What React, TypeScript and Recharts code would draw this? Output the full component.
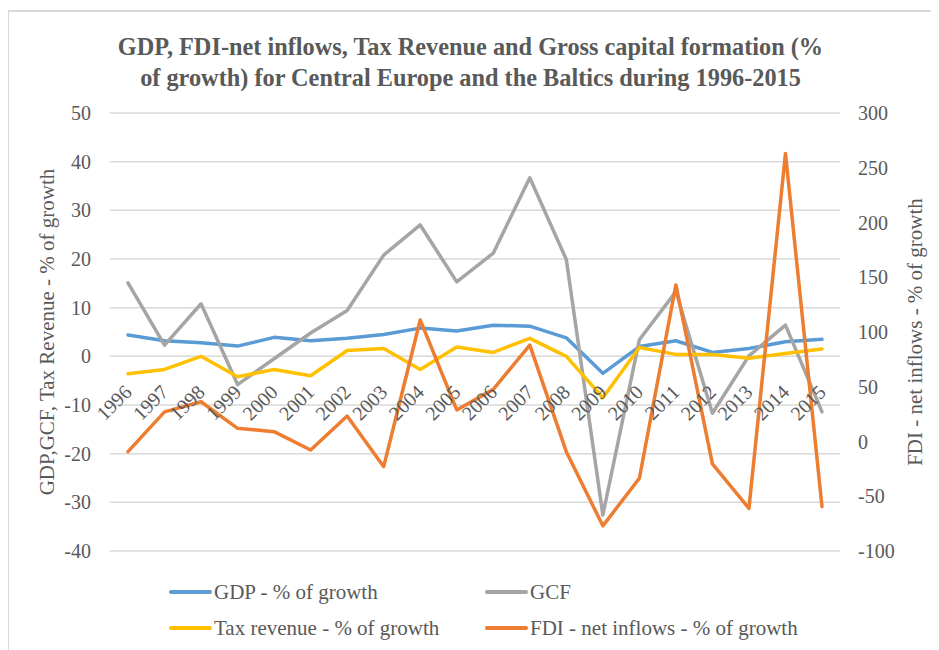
import { CartesianGrid, Line, LineChart, XAxis, YAxis } from "recharts";

const years = [
  "1996", "1997", "1998", "1999", "2000", "2001", "2002", "2003", "2004", "2005",
  "2006", "2007", "2008", "2009", "2010", "2011", "2012", "2013", "2014", "2015",
];
const gdpGrowth = [4.4, 3.2, 2.8, 2.1, 3.9, 3.2, 3.7, 4.5, 5.8, 5.2, 6.4, 6.2, 3.8, -3.5, 2.0, 3.2, 0.8, 1.6, 3.0, 3.5];
const gcfGrowth = [15.1, 2.3, 10.8, -5.8, -0.5, 4.8, 9.4, 20.8, 27.0, 15.3, 21.2, 36.7, 19.9, -32.6, 3.4, 13.3, -11.7, 0.1, 6.4, -11.4];
const taxGrowth = [-3.6, -2.7, 0, -4.2, -2.7, -4.0, 1.2, 1.6, -2.7, 1.9, 0.8, 3.7, 0, -8.5, 1.8, 0.4, 0.4, -0.4, 0.6, 1.5];
const fdiGrowth = [-9.3, 27, 36.3, 12, 9, -7.8, 23.3, -23, 111, 28.8, 47.6, 88, -9.3, -77, -33.6, 143, -20.5, -61, 263, -59.5];

const leftTicks = [-40, -30, -20, -10, 0, 10, 20, 30, 40, 50];
const rightTicks = [-100, -50, 0, 50, 100, 150, 200, 250, 300];

const series = [
  { key: "gdp", name: "GDP - % of growth", color: "#5B9BD5", axis: "left" },
  { key: "gcf", name: "GCF", color: "#A5A5A5", axis: "left" },
  { key: "tax", name: "Tax revenue - % of growth", color: "#FFC000", axis: "left" },
  { key: "fdi", name: "FDI - net inflows - % of growth", color: "#ED7D31", axis: "right" },
];

const data = years.map((year, i) => ({
  year,
  gdp: gdpGrowth[i],
  gcf: gcfGrowth[i],
  tax: taxGrowth[i],
  fdi: fdiGrowth[i],
}));

const FONT = "'Liberation Serif', 'Times New Roman', serif";
const TEXT = "#595959";
const W = 931;
const H = 642;
const M = { top: 105, left: 42, right: 39, bottom: 69 };
const PLOT_H = 438;
// category labels sit under the 0 line of the left axis, like Excel
const ZERO_Y = M.top + (PLOT_H * 50) / 90;

const YearTick = (props: any) => {
  const { x, payload } = props;
  const tx = x + 5;
  const ty = ZERO_Y + 37;
  return (
    <text x={tx} y={ty} transform={`rotate(-45, ${tx}, ${ty})`} textAnchor="end" fill={TEXT} fontSize={20} fontFamily={FONT}>
      {payload.value}
    </text>
  );
};

const axisTitle = (text: string, x: number) => (props: any) => {
  const vb = props.viewBox;
  const cy = vb.y + vb.height / 2;
  return (
    <text
      x={x}
      y={cy}
      transform={`rotate(-90, ${x}, ${cy})`}
      textAnchor="middle"
      dominantBaseline="central"
      fill={TEXT}
      fontSize={21}
      fontFamily={FONT}
    >
      {text}
    </text>
  );
};

export default function App() {
  return (
    <div style={{ position: "relative", width: W, height: H, fontFamily: FONT, background: "#fff" }}>
      <div
        style={{
          position: "absolute",
          left: -1,
          top: 2,
          width: W + 1,
          height: H - 2,
          borderLeft: "2px solid #D9D9D9",
          borderTop: "2px solid #D9D9D9",
          boxSizing: "border-box",
        }}
      />
      <div
        style={{
          position: "absolute",
          top: 23,
          left: 0,
          width: 925,
          textAlign: "center",
          fontSize: 24.3,
          lineHeight: "31px",
          fontWeight: "bold",
          color: TEXT,
        }}
      >
        GDP, FDI-net inflows, Tax Revenue and Gross capital formation (%
        <br />
        of growth) for Central Europe and the Baltics during 1996-2015
      </div>
      <LineChart width={W} height={H} data={data} margin={M} style={{ position: "absolute", left: 0, top: 0 }}>
        <CartesianGrid vertical={false} stroke="#D9D9D9" strokeWidth={1.5} yAxisId="left" />
        <XAxis
          dataKey="year"
          axisLine={false}
          tickLine={false}
          interval={0}
          height={30}
          padding={{ left: 18, right: 18 }}
          tick={<YearTick />}
        />
        <YAxis
          yAxisId="left"
          domain={[-40, 50]}
          ticks={leftTicks}
          width={60}
          axisLine={false}
          tickLine={false}
          tickMargin={13}
          tick={{ fill: TEXT, fontSize: 20, fontFamily: FONT }}
          label={{ content: axisTitle("GDP,GCF, Tax Revenue - % of growth", 39) }}
        />
        <YAxis
          yAxisId="right"
          orientation="right"
          domain={[-100, 300]}
          ticks={rightTicks}
          width={60}
          axisLine={false}
          tickLine={false}
          tickMargin={12}
          tick={{ fill: TEXT, fontSize: 20, fontFamily: FONT, textAnchor: "start" }}
          label={{ content: axisTitle("FDI - net inflows - % of growth", 907) }}
        />
        {series.map((s) => (
          <Line
            key={s.key}
            yAxisId={s.axis}
            dataKey={s.key}
            name={s.name}
            type="linear"
            stroke={s.color}
            strokeWidth={3.5}
            strokeLinecap="round"
            strokeLinejoin="round"
            dot={false}
            activeDot={false}
            isAnimationActive={false}
          />
        ))}
      </LineChart>
      {series.map((s, i) => (
        <div
          key={s.key}
          style={{
            position: "absolute",
            left: i % 2 === 0 ? 161 : 477,
            top: (i < 2 ? 584 : 620) - 12,
            height: 24,
            display: "flex",
            alignItems: "center",
            fontSize: 21,
            color: TEXT,
            whiteSpace: "nowrap",
          }}
        >
          <span style={{ display: "inline-block", width: 43, height: 4, borderRadius: 2, background: s.color, marginRight: 2 }} />
          {s.name}
        </div>
      ))}
    </div>
  );
}
